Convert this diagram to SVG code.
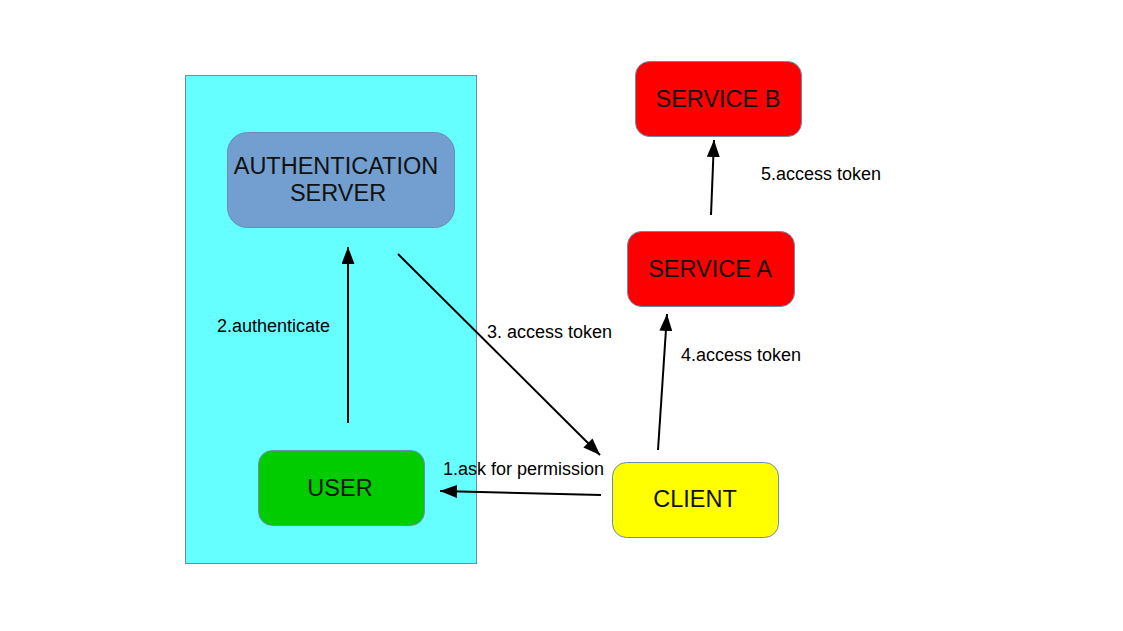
<svg xmlns="http://www.w3.org/2000/svg" width="1123" height="631" viewBox="0 0 1123 631">
<style>
.node{stroke:#6a8cb0;stroke-width:1}
.nt{font-family:"Liberation Sans",Arial,sans-serif;font-size:23.5px;fill:#111;text-anchor:middle}
.lb{font-family:"Liberation Sans",Arial,sans-serif;font-size:18px;fill:#000}
.con line{stroke:#000;stroke-width:2}
</style>
<defs>
<marker id="ah" viewBox="0 0 17 13" refX="17" refY="6.5" markerWidth="17" markerHeight="13" markerUnits="userSpaceOnUse" orient="auto">
<path d="M0,0 L17,6.5 L0,13 Z" fill="#000"/>
</marker>
</defs>
<rect width="1123" height="631" fill="#fff"/>
<g id="container"><rect x="185.5" y="75.5" width="291" height="488" fill="#66ffff" class="node"/></g>
<g id="auth"><rect x="227.5" y="132.5" width="227" height="95" rx="20" fill="#729fcf" class="node"/>
<text class="nt" x="336" y="174">AUTHENTICATION</text><text class="nt" x="338" y="201">SERVER</text></g>
<g id="user"><rect x="258.5" y="450.5" width="166" height="75" rx="14" fill="#00cc00" class="node"/>
<text class="nt" x="340" y="496">USER</text></g>
<g id="client"><rect x="612.5" y="462.5" width="166" height="75" rx="14" fill="#ffff00" class="node"/>
<text class="nt" x="695" y="507">CLIENT</text></g>
<g id="serviceA"><rect x="627.5" y="231.5" width="167" height="75" rx="14" fill="#ff0000" class="node"/>
<text class="nt" x="710" y="277">SERVICE A</text></g>
<g id="serviceB"><rect x="635.5" y="61.5" width="166" height="75" rx="14" fill="#ff0000" class="node"/>
<text class="nt" x="718" y="107">SERVICE B</text></g>
<g class="con" id="connectors">
<line x1="348" y1="423" x2="348" y2="247" marker-end="url(#ah)"/>
<line x1="398" y1="254" x2="600" y2="455" marker-end="url(#ah)"/>
<line x1="601" y1="495" x2="440" y2="491" marker-end="url(#ah)"/>
<line x1="658" y1="450" x2="667" y2="314" marker-end="url(#ah)"/>
<line x1="711" y1="215" x2="714" y2="140" marker-end="url(#ah)"/>
</g>
<g id="labels">
<text class="lb" x="217" y="332">2.authenticate</text>
<text class="lb" x="487" y="338">3. access token</text>
<text class="lb" x="443" y="475">1.ask for permission</text>
<text class="lb" x="681" y="361">4.access token</text>
<text class="lb" x="761" y="180">5.access token</text>
</g>
</svg>
